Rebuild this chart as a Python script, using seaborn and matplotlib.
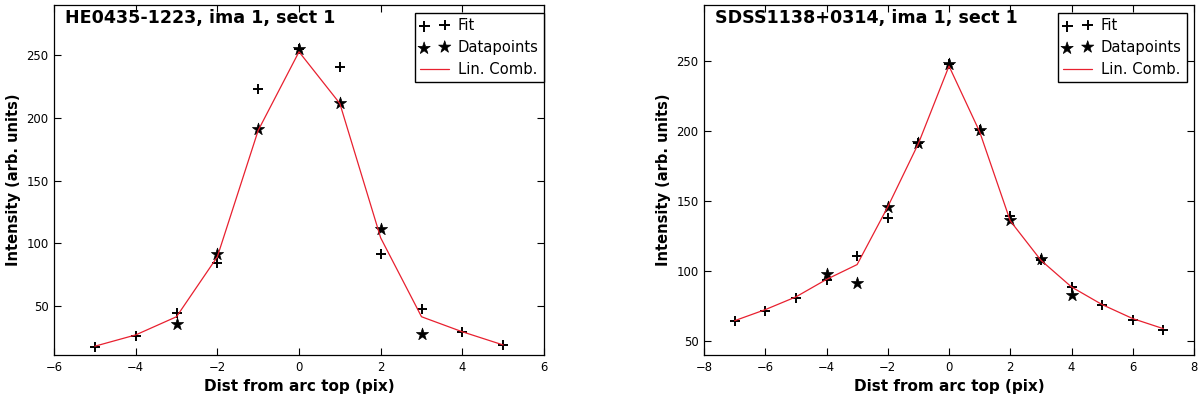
"""
plot.py
Arc-top intensity profiles: fit, datapoints and linear combination
for two lensed systems, drawn side by side.
"""

import matplotlib
matplotlib.use('Agg')
import matplotlib.pyplot as plt
import seaborn as sns


# ── data ───────────────────────────────────────────────────────────────────────

LEFT_TITLE   = 'HE0435-1223, ima 1, sect 1'
left_x       = [-5, -4, -3, -2, -1, 0, 1, 2, 3, 4, 5]
left_fit     = [17.6, 26.1, 44.2, 84.5, 222.9, 255.3, 240.7, 91.4, 47.6, 29.0, 19.0]
left_comb    = [18.0, 27.0, 41.5, 89.3, 190.0, 252.7, 211.5, 104.4, 41.5, 29.5, 19.0]
left_data_x  = [-3, -2, -1, 0, 1, 2, 3]
left_data    = [35.7, 91.4, 190.8, 255.3, 211.5, 111.1, 27.4]

RIGHT_TITLE  = 'SDSS1138+0314, ima 1, sect 1'
right_x      = [-7, -6, -5, -4, -3, -2, -1, 0, 1, 2, 3, 4, 5, 6, 7]
right_fit    = [64.1, 71.7, 80.7, 93.9, 110.5, 137.5, 191.1, 247.9, 200.7,
                139.2, 107.7, 88.6, 75.5, 64.8, 57.6]
right_comb   = [64.5, 72.4, 81.5, 94.0, 104.6, 145.8, 191.0, 246.4, 199.5,
                135.8, 107.7, 88.6, 76.0, 66.0, 58.8]
right_data_x = [-4, -3, -2, -1, 0, 1, 2, 3, 4]
right_data   = [98.2, 91.5, 145.8, 191.1, 247.9, 200.7, 136.3, 108.9, 82.7]


# ── style ──────────────────────────────────────────────────────────────────────

sns.set_style('ticks')
plt.rcParams['font.family'] = ['DejaVu Sans']
plt.rcParams['text.color'] = 'black'
plt.rcParams['axes.labelcolor'] = 'black'
plt.rcParams['xtick.color'] = 'black'
plt.rcParams['ytick.color'] = 'black'


def draw_panel(ax, title, x, fit, comb, data_x, data, xlim, ylim, xticks, yticks,
               legend_anchor):
    sns.scatterplot(x=x, y=fit, marker='+', s=62, color='black',
                    linewidth=1.4, label='Fit', ax=ax, zorder=2)
    sns.scatterplot(x=data_x, y=data, marker='*', s=85, color='black',
                    edgecolor='black', linewidth=0.5, label='Datapoints',
                    ax=ax, zorder=2)
    sns.lineplot(x=x, y=comb, color='#e8202f', linewidth=0.9,
                 label='Lin. Comb.', ax=ax, zorder=3)

    ax.set_xlim(*xlim)
    ax.set_ylim(*ylim)
    ax.set_xticks(xticks)
    ax.set_yticks(yticks)
    ax.tick_params(direction='in', length=5, width=0.8, labelsize=8.4,
                   top=True, right=True, pad=4, colors='black')
    for sp in ax.spines.values():
        sp.set_visible(True)
        sp.set_linewidth(0.9)
        sp.set_color('black')

    ax.set_xlabel('Dist from arc top (pix)', fontsize=11, fontweight='bold')
    ax.set_ylabel('Intensity (arb. units)', fontsize=10.5, fontweight='bold')
    ax.text(0.022, 0.99, title, transform=ax.transAxes, ha='left', va='top',
            fontsize=12.6, fontweight='bold', color='black')

    leg = ax.legend(loc='upper right', bbox_to_anchor=legend_anchor,
                    scatterpoints=2, fontsize=10.6,
                    frameon=True, fancybox=False, borderaxespad=0.0,
                    handlelength=2.0, labelspacing=0.48, borderpad=0.35,
                    handletextpad=0.6)
    leg.get_frame().set_edgecolor('black')
    leg.get_frame().set_linewidth(1.0)
    leg.get_frame().set_alpha(1)


# ── figure ─────────────────────────────────────────────────────────────────────

fig = plt.figure(figsize=(12, 3.98), dpi=100)
ax_l = fig.add_axes([54 / 1200, 43 / 398, 490 / 1200, 350 / 398])
ax_r = fig.add_axes([704 / 1200, 43 / 398, 490 / 1200, 350 / 398])

draw_panel(ax_l, LEFT_TITLE, left_x, left_fit, left_comb, left_data_x, left_data,
           (-6, 6), (11, 290), range(-6, 7, 2), [50, 100, 150, 200, 250],
           (1.0, 1 - 8 / 350))
draw_panel(ax_r, RIGHT_TITLE, right_x, right_fit, right_comb, right_data_x, right_data,
           (-8, 8), (40, 290), range(-8, 9, 2), [50, 100, 150, 200, 250],
           (1 - 7 / 490, 1 - 8 / 350))

fig.savefig('out.png', dpi=100)
plt.close(fig)
